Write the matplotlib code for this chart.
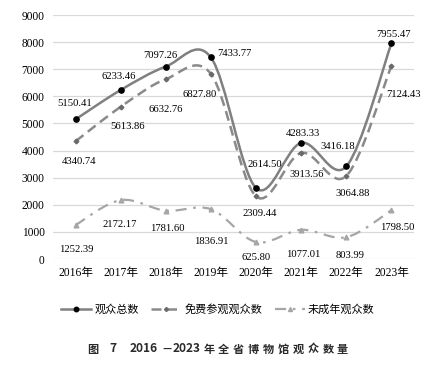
import matplotlib
matplotlib.use("Agg")
import matplotlib.pyplot as plt
from matplotlib.path import Path
from matplotlib.patches import PathPatch
from matplotlib.lines import Line2D
import numpy as np

# ---- data ----
years = ["2016年", "2017年", "2018年", "2019年", "2020年", "2021年", "2022年", "2023年"]
total = [5150.41, 6233.46, 7097.26, 7433.77, 2614.50, 4283.33, 3416.18, 7955.47]
free = [4340.74, 5613.86, 6632.76, 6827.80, 2309.44, 3913.56, 3064.88, 7124.43]
minor = [1252.39, 2172.17, 1781.60, 1836.91, 625.80, 1077.01, 803.99, 1798.50]
series_names = ["观众总数", "免费参观观众数", "未成年观众数"]
yticks = [0, 1000, 2000, 3000, 4000, 5000, 6000, 7000, 8000, 9000]
caption_tokens = ["图", "7", "2016", "－", "2023", "年", "全", "省", "博", "物", "馆", "观", "众", "数", "量"]

# layout: caption token centres (px), label offsets in px (dx right, dy down)
caption_x = [93, 113, 143.5, 166.5, 187, 209, 223.5, 238, 253, 268, 283, 298, 313, 328, 342.5]
off_total = [(-1, -16), (-2, -14), (-5, -11), (23, -4), (9, -24), (2, -9), (-9, -20), (2, -9)]
off_free = [(3, 20), (7, 20), (0, 30), (-11, 21), (4, 17), (6, 22), (6, 18), (12, 29)]
off_minor = [(1, 24), (-1, 24), (1, 18), (0, 32), (0, 15), (2, 25), (4, 18), (6, 17)]

NUM = ["Liberation Serif", "Noto Sans CJK SC"]
CJK = ["Liberation Serif", "Noto Sans CJK SC"]

W, H = 439, 374
fig = plt.figure(figsize=(W / 100, H / 100), dpi=100)
L, R, T, B = 53, 414, 15, 259
ax = fig.add_axes([L / W, 1 - B / H, (R - L) / W, (B - T) / H])
ax.set_xlim(-0.5, len(years) - 0.5)
ax.set_ylim(0, 9000)
for s in ax.spines.values():
    s.set_visible(False)
ax.set_yticks(yticks)
ax.set_yticklabels([str(v) for v in yticks], family=NUM, fontsize=8.3)
ax.set_xticks(range(len(years)))
ax.set_xticklabels(years, family=CJK, fontsize=8.4)
ax.tick_params(axis="both", length=0)
ax.tick_params(axis="y", pad=6)
ax.tick_params(axis="x", pad=6)
ax.grid(axis="y", color="#d9d9d9", lw=0.9)
ax.set_axisbelow(True)


def smooth_path(xs, ys):
    pts = np.column_stack([xs, ys]).astype(float)
    n = len(pts)
    verts = [pts[0]]
    codes = [Path.MOVETO]
    for i in range(n - 1):
        p0 = pts[i - 1] if i > 0 else pts[i]
        p1 = pts[i]
        p2 = pts[i + 1]
        p3 = pts[i + 2] if i + 2 < n else pts[i + 1]
        c1 = p1 + (p2 - p0) / 6.0
        c2 = p2 - (p3 - p1) / 6.0
        verts += [c1, c2, p2]
        codes += [Path.CURVE4] * 3
    return Path(verts, codes)


xs = np.arange(len(years))
styles = [
    dict(color="#808080", ls="-", lw=1.8, marker="o", ms=3.8, mfc="black", mec="black"),
    dict(color="#8a8a8a", ls=(0, (4, 2.2)), lw=1.8, marker="D", ms=2.4, mfc="#6a6a6a", mec="#6a6a6a"),
    dict(color="#a6a6a6", ls=(0, (5, 3, 1.2, 3)), lw=1.6, marker="^", ms=3.4, mfc="#a6a6a6", mec="#a6a6a6"),
]
handles = []
for data, st in zip([total, free, minor], styles):
    patch = PathPatch(smooth_path(xs, data), fill=False, edgecolor=st["color"],
                      lw=st["lw"], linestyle=st["ls"], zorder=3, capstyle="butt")
    ax.add_patch(patch)
    ax.plot(xs, data, ls="none", marker=st["marker"], ms=st["ms"],
            mfc=st["mfc"], mec=st["mec"], zorder=4)
    handles.append(Line2D([], [], color=st["color"], ls=st["ls"], lw=st["lw"],
                          marker=st["marker"], ms=st["ms"] * 0.85, mfc=st["mfc"], mec=st["mec"]))

for data, offs in zip([total, free, minor], [off_total, off_free, off_minor]):
    for x, v, (dx, dy) in zip(xs, data, offs):
        ax.annotate(f"{v:.2f}", (x, v), xytext=(dx * 0.72, -dy * 0.72),
                    textcoords="offset points", ha="center", va="center",
                    family=NUM, fontsize=7.7, zorder=5)

leg = fig.legend(handles, series_names, loc="center", bbox_to_anchor=(218 / W, 1 - 309 / H),
                 ncol=3, frameon=False, prop={"family": CJK, "size": 8.0},
                 handlelength=2.7, handletextpad=0.3, columnspacing=1.1)

for tok, cx in zip(caption_tokens, caption_x):
    fs = 8.6 if tok[0].isdigit() else 8.0
    fig.text(cx / W, 1 - 349 / H, tok, ha="center", va="center",
             family=["Noto Sans CJK SC", "DejaVu Sans"], fontsize=fs, fontweight="bold",
             color="#2a2a2a")

fig.savefig("out.png", dpi=100)
